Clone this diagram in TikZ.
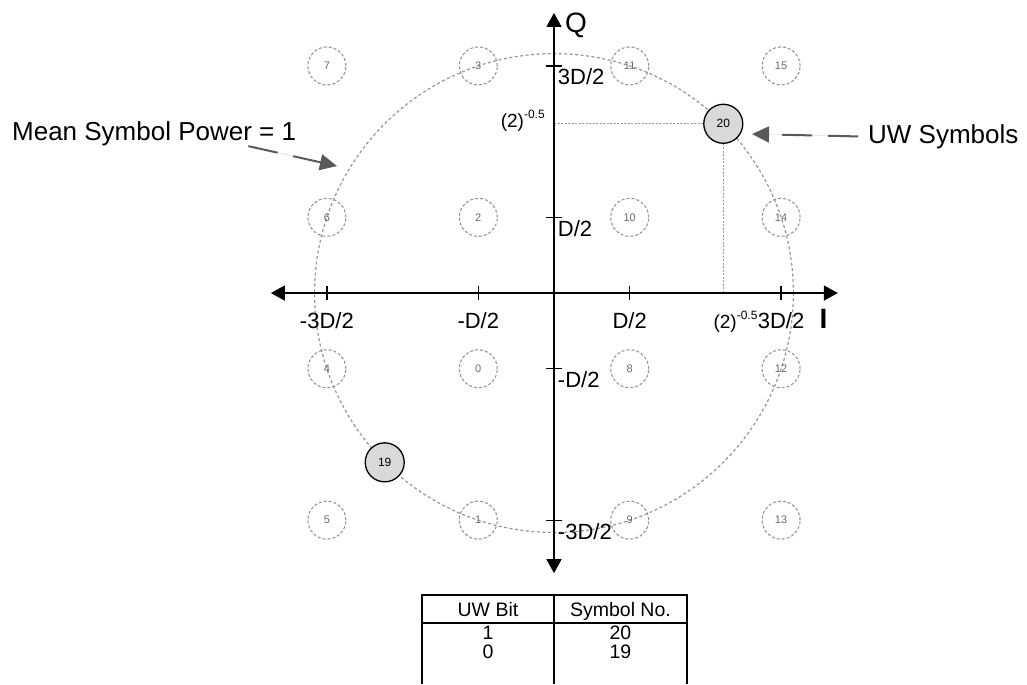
\documentclass[tikz,border=0pt]{standalone}
\usepackage{fontspec}
\setmainfont{Liberation Sans}
\usetikzlibrary{arrows.meta,positioning}
\definecolor{GridGray}{RGB}{150,150,150}
\definecolor{LabelGray}{RGB}{105,105,105}
\definecolor{UWFill}{RGB}{217,217,217}
\definecolor{PointerGray}{RGB}{89,89,89}
\newcommand{\roottwo}{(2)\raisebox{9pt}{\fontsize{12}{12}\selectfont-0.5}}

\begin{document}
\begin{tikzpicture}[
x=75.7pt,
y=75.7pt,
axis/.style={
line width=1.6pt,
{Triangle[length=14pt,width=15pt]}-{Triangle[length=14pt,width=15pt]}
},
tick/.style={line width=1.3pt},
point/.style={
circle,
draw=GridGray,
line width=1.1pt,
dash pattern=on 3pt off 2pt,
minimum size=38pt,
inner sep=0pt,
text=LabelGray,
font=\fontsize{11}{11}\selectfont
},
uw/.style={
circle,
draw=black,
line width=1.3pt,
fill=UWFill,
minimum size=39pt,
inner sep=0pt,
font=\fontsize{12}{12}\selectfont
},
power/.style={draw=GridGray, line width=1.2pt, dash pattern=on 3pt off 2.5pt},
guide/.style={draw=GridGray, line width=1.2pt, dash pattern=on 2pt off 1.5pt},
pointer/.style={
draw=PointerGray,
fill=PointerGray,
line width=2pt,
dash pattern=on 30pt off 16pt,
-{Triangle[length=17pt,width=16pt]}
},
axislabel/.style={inner sep=0pt, font=\fontsize{22}{22}\selectfont},
axisname/.style={inner sep=0pt, font=\fontsize{28}{28}\selectfont},
rootlabel/.style={inner sep=0pt, font=\fontsize{19}{19}\selectfont},
bigtext/.style={inner sep=0pt, font=\fontsize{26}{26}\selectfont},
cell/.style={inner sep=0pt, font=\fontsize{19.5}{19.5}\selectfont},
rule/.style={line width=1.3pt}
]
\useasboundingbox (-7.318,-5.165) rectangle (6.248,3.871);

\draw[power] (0,0) circle (3.1623);

\coordinate (qfoot) at (0,2.236);
\coordinate (ifoot) at (2.236,0);
\coordinate (iw) at (-3.74,0);
\coordinate (ie) at (3.75,0);
\coordinate (qs) at (0,-3.7);
\coordinate (qn) at (0,3.7);

\node[uw] (p20) at (2.236,2.236) {20};
\node[uw] (p19) at (-2.236,-2.236) {19};

\draw[guide] (qfoot) -- (p20);
\draw[guide] (p20) -- (ifoot);

\draw[axis] (iw) -- (ie);
\draw[axis] (qs) -- (qn);

\foreach \t/\l in {-3/{-3D/2}, -1/{-D/2}, 1/{D/2}, 3/{3D/2}} {
\draw[tick] (\t,-0.09) -- (\t,0.09);
\draw[tick] (-0.1,\t) -- (0.1,\t);
\node[axislabel, anchor=base] (x\t) at (\t,-0.47) {\l};
\node[axislabel, anchor=base west] (y\t) at (0.05,{\t-0.25}) {\l};
}

\node[axisname, anchor=west] (qname) at (0.145,3.54) {Q};
\node[axisname, font=\fontsize{28}{28}\selectfont\bfseries] (iname) at (3.56,-0.343) {I};

\node[rootlabel, anchor=base east] (qroot) at (-0.12,2.19) {\roottwo};
\node[rootlabel, anchor=base east] (iroot) at (x3.base west) {\roottwo};

\foreach \i/\q/\n in {-3/3/7, -3/1/6, -3/-1/4, -3/-3/5,
-1/3/3, -1/1/2, -1/-1/0, -1/-3/1,
1/3/11, 1/1/10, 1/-1/8, 1/-3/9,
3/3/15, 3/1/14, 3/-1/12, 3/-3/13}
\node[point] (p\n) at (\i,\q) {\n};

\node[bigtext, anchor=base west] (msp) at (-7.16,2.02) {Mean Symbol Power = 1};
\coordinate (msptip) at (-2.867,1.678);
\draw[pointer] ([xshift=-48pt,yshift=-6pt]msp.base east) -- (msptip);

\node[bigtext, anchor=base west] (uwsym) at (4.148,1.98) {UW Symbols};
\coordinate (uwtip) at (2.616,2.1);
\draw[pointer] ([xshift=-10pt]uwsym.west) -- (uwtip);

\draw[rule] (-1.744,-5.165) |- (1.757,-3.99) -- (1.757,-5.165);
\draw[rule] (-1.744,-4.359) -- (1.757,-4.359);
\draw[rule] (0,-3.99) -- (0,-5.165);

\node[cell, anchor=base] (hbit) at (-0.872,-4.268) {UW Bit};
\node[cell, anchor=base] (hsym) at (0.878,-4.268) {Symbol No.};
\node[cell, anchor=base] (bit1) at (-0.872,-4.575) {1};
\node[cell, anchor=base] (sym1) at (0.878,-4.575) {20};
\node[cell, anchor=base] (bit0) at (-0.872,-4.826) {0};
\node[cell, anchor=base] (sym0) at (0.878,-4.826) {19};
\end{tikzpicture}
\end{document}
